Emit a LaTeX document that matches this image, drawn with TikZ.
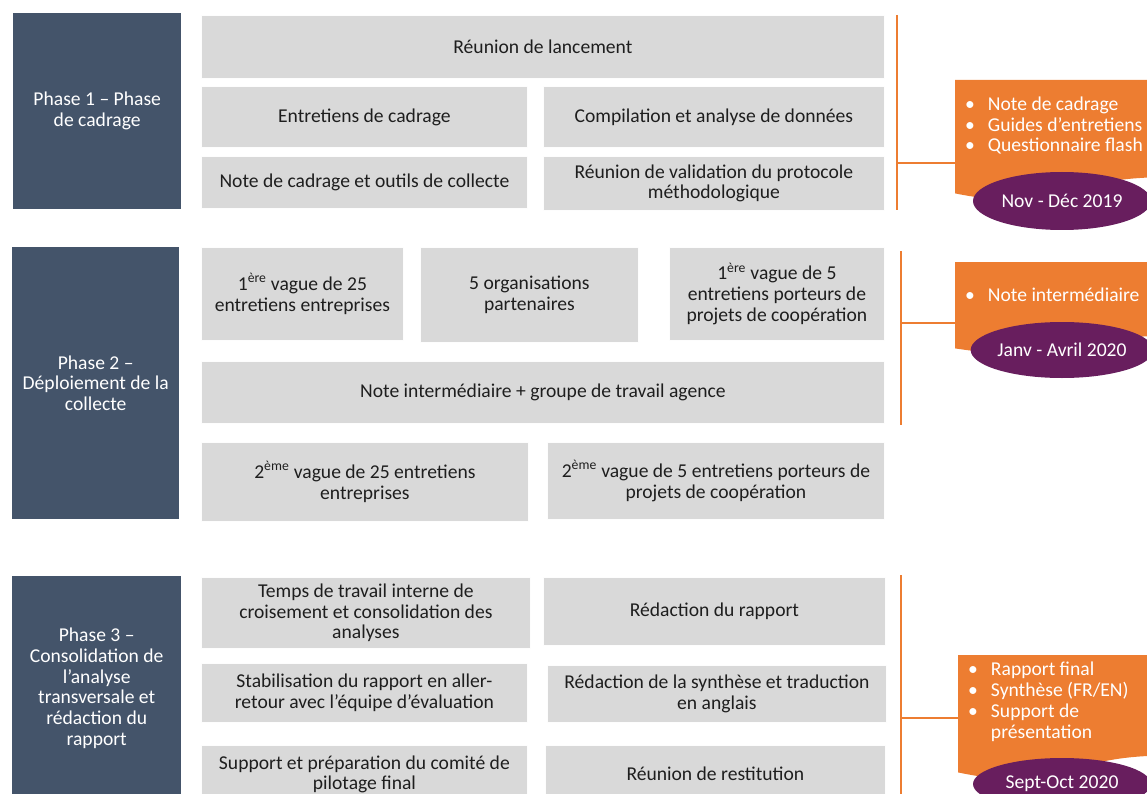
\documentclass[tikz,border=0pt]{standalone}
\usepackage{fontspec}
\setmainfont{Carlito}
\usetikzlibrary{calc,shapes.geometric}

\definecolor{slate}{HTML}{44546A}
\definecolor{cellgrey}{HTML}{D9D9D9}
\definecolor{accent}{HTML}{ED7D31}
\definecolor{plum}{RGB}{104,30,94}
\definecolor{inktext}{HTML}{1E1E1E}

\newcommand\bodyfont{\fontsize{19.6}{20.8}\selectfont}

% orange deliverable card with a wavy "document" bottom edge
\newcommand\deliverable[1]{%
  \fill[accent] let \p1=(#1.north west), \p2=(#1.south east), \n1={\y1-\y2} in
    (\p1) -- (\x2,\y1) -- (\x2,{\y2+0.143*\n1})
    .. controls ({(\x1+\x2)/2},{\y2+0.143*\n1}) and ({(\x1+\x2)/2},{\y2-0.186*\n1}) ..
    (\x1,\y2) -- cycle;}

\newcommand\bulletlist[1]{%
  \begin{tabular}{@{}l@{\hspace{13pt}}l@{}}#1\end{tabular}}

\tikzset{
  phasebox/.style={fill=slate, text=white, align=center, anchor=north west,
    inner sep=0pt, font=\bodyfont},
  taskbox/.style={fill=cellgrey, draw=white!96!cellgrey, line width=0.8pt,
    text=inktext, align=center, anchor=north west, inner sep=0pt, font=\bodyfont},
  cardframe/.style={anchor=north west, inner sep=0pt, draw=none},
  cardtext/.style={anchor=west, inner sep=0pt, text=white, font=\bodyfont},
  datebadge/.style={ellipse, fill=plum, text=white, inner sep=0pt,
    minimum width=178pt, font=\bodyfont},
  bracket/.style={draw=accent, line width=2.8pt},
}

\begin{document}
\begin{tikzpicture}[x=1pt, y=-1pt]
\useasboundingbox (0,0) rectangle (1147,794);
\clip (0,0) rectangle (1147,794);

% ---------- phase labels ----------
\node[phasebox, minimum width=168pt, minimum height=196pt] (p1) at (13,13)
  {Phase 1 -- Phase\\de cadrage};
\node[phasebox, minimum width=167pt, minimum height=272pt] (p2) at (12,247)
  {Phase 2 --\\Déploiement de la\\collecte};
\node[phasebox, minimum width=169pt, minimum height=224pt] (p3) at (12,576)
  {Phase 3 --\\Consolidation de\\l’analyse\\transversale et\\rédaction du\\rapport};

% ---------- phase 1 tasks ----------
\node[taskbox, minimum width=683pt, minimum height=63pt] (a1) at (201,15)
  {Réunion de lancement};
\node[taskbox, minimum width=326pt, minimum height=61pt] (a2) at (201,86)
  {Entretiens de cadrage};
\node[taskbox, minimum width=341pt, minimum height=61pt] (a3) at (543,86)
  {Compilation et analyse de données};
\node[taskbox, minimum width=326pt, minimum height=52pt] (a4) at (201,156)
  {Note de cadrage et outils de collecte};
\node[taskbox, minimum width=341pt, minimum height=54pt] (a5) at (543,156)
  {Réunion de validation du protocole\\méthodologique};

% ---------- phase 2 tasks ----------
\node[taskbox, minimum width=202pt, minimum height=93pt] (b1) at (201,247)
  {1\textsuperscript{ère} vague de 25\\entretiens entreprises};
\node[taskbox, minimum width=218pt, minimum height=95pt] (b2) at (420,247)
  {5 organisations\\partenaires};
\node[taskbox, minimum width=215pt, minimum height=93pt] (b3) at (669,247)
  {1\textsuperscript{ère} vague de 5\\entretiens porteurs de\\projets de coopération};
\node[taskbox, minimum width=683pt, minimum height=62pt] (b4) at (201,361)
  {Note intermédiaire + groupe de travail agence};
\node[taskbox, minimum width=327pt, minimum height=79pt] (b5) at (201,442)
  {2\textsuperscript{ème} vague de 25 entretiens\\entreprises};
\node[taskbox, minimum width=337pt, minimum height=77pt] (b6) at (547,442)
  {2\textsuperscript{ème} vague de 5 entretiens porteurs de\\projets de coopération};

% ---------- phase 3 tasks ----------
\node[taskbox, minimum width=329pt, minimum height=71pt] (c1) at (201,577)
  {Temps de travail interne de\\croisement et consolidation des\\analyses};
\node[taskbox, minimum width=342pt, minimum height=68pt] (c2) at (543,577)
  {Rédaction du rapport};
\node[taskbox, minimum width=326pt, minimum height=59pt] (c3) at (201,663)
  {Stabilisation du rapport en aller-\\retour avec l’équipe d’évaluation};
\node[taskbox, minimum width=339pt, minimum height=57pt] (c4) at (547,665)
  {Rédaction de la synthèse et traduction\\en anglais};
\node[taskbox, minimum width=326pt, minimum height=58pt] (c5) at (201,745)
  {Support et préparation du comité de\\pilotage final};
\node[taskbox, minimum width=340pt, minimum height=56pt] (c6) at (545,745)
  {Réunion de restitution};

% ---------- deliverable cards ----------
\node[cardframe, minimum width=210pt, minimum height=113pt] (o1) at (955,80) {};
\node[cardframe, minimum width=210pt, minimum height=86pt] (o2) at (955,262) {};
\node[cardframe, minimum width=207pt, minimum height=117pt] (o3) at (958,655) {};
\deliverable{o1}
\deliverable{o2}
\deliverable{o3}

\node[cardtext] (o1t) at (965,127)
  {\bulletlist{•&Note de cadrage\\ •&Guides d’entretiens\\ •&Questionnaire flash}};
\node[cardtext] (o2t) at (965,297)
  {\bulletlist{•&Note intermédiaire}};
\node[cardtext] (o3t) at (968,703)
  {\bulletlist{•&Rapport final\\ •&Synthèse (FR/EN)\\ •&Support de\\ &présentation}};

% ---------- date badges ----------
\node[datebadge, minimum height=58pt] (e1) at (1062,201) {Nov - Déc 2019};
\node[datebadge, minimum height=56pt] (e2) at (1062,350) {Janv - Avril 2020};
\node[datebadge, minimum height=52pt] (e3) at (1062,784) {Sept-Oct 2020};

% ---------- brackets linking phases to deliverables ----------
\coordinate (k1t) at (897,15);  \coordinate (k1b) at (897,210); \coordinate (k1m) at (897,163);
\coordinate (k2t) at (901,251); \coordinate (k2b) at (901,425); \coordinate (k2m) at (901,323);
\coordinate (k3t) at (901,575); \coordinate (k3b) at (901,800); \coordinate (k3m) at (901,718);

\draw[bracket] (k1t) -- (k1b);
\draw[bracket] (k1m) -- (k1m -| o1.west);
\draw[bracket] (k2t) -- (k2b);
\draw[bracket] (k2m) -- (k2m -| o2.west);
\draw[bracket] (k3t) -- (k3b);
\draw[bracket] (k3m) -- (k3m -| o3.west);
\end{tikzpicture}
\end{document}
